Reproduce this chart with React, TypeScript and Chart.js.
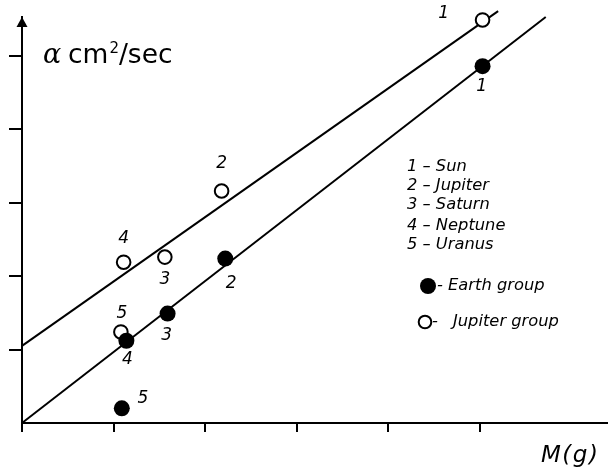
import React, { useEffect, useRef } from 'react';
import { Chart, registerables } from 'chart.js';

Chart.register(...registerables);

// ---- data ----
const planetNames = ['Sun', 'Jupiter', 'Saturn', 'Neptune', 'Uranus'];
const pointNumbers = ['1', '2', '3', '4', '5'];
const earthX = [5.03, 2.22, 1.59, 1.14, 1.09];
const earthY = [4.86, 2.24, 1.49, 1.12, 0.2];
const jupiterX = [5.03, 2.18, 1.56, 1.11, 1.08];
const jupiterY = [5.49, 3.16, 2.26, 2.19, 1.24];
const earthLineX = [0, 5.72];
const earthLineY = [0, 5.53];
const jupiterLineX = [0, 5.2];
const jupiterLineY = [1.05, 5.61];
const xTicks = [0, 1, 2, 3, 4, 5];
const yTicks = [1, 2, 3, 4, 5];
const xMax = 6.4;
const yMax = 5.53;

// label offsets (pixels, style only)
const earthLabelOffsets = [[-1, 20], [6, 25], [-1, 22], [1, 19], [21, -10]];
const jupiterLabelOffsets = [[-39, -6], [0, -27], [0, 23], [0, -24], [1, -18]];

const annotPlugin = {
  id: 'annot',
  afterDraw(chart: any) {
    const ctx = chart.ctx as CanvasRenderingContext2D;
    const xs = chart.scales.x;
    const ys = chart.scales.y;
    const area = chart.chartArea;
    ctx.save();
    ctx.fillStyle = '#000';
    // arrow on y axis
    const ax = area.left;
    const top = area.top;
    ctx.beginPath();
    ctx.moveTo(ax, top);
    ctx.lineTo(ax - 5.5, top + 10);
    ctx.lineTo(ax + 5.5, top + 10);
    ctx.closePath();
    ctx.fill();

    // point number labels
    ctx.font = 'italic 17px "DejaVu Sans"';
    ctx.textAlign = 'center';
    ctx.textBaseline = 'middle';
    pointNumbers.forEach((n, i) => {
      const ex = xs.getPixelForValue(earthX[i]) + earthLabelOffsets[i][0];
      const ey = ys.getPixelForValue(earthY[i]) + earthLabelOffsets[i][1];
      ctx.fillText(n, ex, ey);
      const jx = xs.getPixelForValue(jupiterX[i]) + jupiterLabelOffsets[i][0];
      const jy = ys.getPixelForValue(jupiterY[i]) + jupiterLabelOffsets[i][1];
      ctx.fillText(n, jx, jy);
    });

    // planet legend
    ctx.textAlign = 'left';
    ctx.font = 'italic 16.3px "DejaVu Sans"';
    const legendY = [167, 186, 205, 226, 245];
    planetNames.forEach((p, i) => {
      ctx.fillText(`${pointNumbers[i]} \u2013 ${p}`, 407, legendY[i]);
    });

    // group legend
    ctx.beginPath();
    ctx.arc(428, 286, 8, 0, Math.PI * 2);
    ctx.fill();
    ctx.fillText('- Earth group', 437, 286);
    ctx.beginPath();
    ctx.arc(425, 322, 6.3, 0, Math.PI * 2);
    ctx.fillStyle = '#fff';
    ctx.fill();
    ctx.lineWidth = 2;
    ctx.strokeStyle = '#000';
    ctx.stroke();
    ctx.fillStyle = '#000';
    ctx.fillText('-', 432, 322);
    ctx.fillText('Jupiter group', 453, 322);

    // axis title M(g)
    ctx.font = 'italic 23px "DejaVu Sans"';
    (ctx as any).letterSpacing = '1.5px';
    ctx.textBaseline = 'alphabetic';
    ctx.fillText('M(g)', 541, 462);
    (ctx as any).letterSpacing = '0px';

    // y title
    let x = 43;
    ctx.font = 'italic 27px "DejaVu Serif"';
    ctx.fillText('\u03b1', x, 63);
    x = 68;
    ctx.font = '26.5px "DejaVu Sans"';
    ctx.fillText('cm', x, 63);
    x += ctx.measureText('cm').width + 1;
    ctx.font = '15px "DejaVu Sans"';
    ctx.fillText('2', x, 53);
    x += ctx.measureText('2').width;
    ctx.font = '26.5px "DejaVu Sans"';
    ctx.fillText('/sec', x, 63);
    ctx.restore();
  },
};

export default function App() {
  const ref = useRef<HTMLCanvasElement | null>(null);
  useEffect(() => {
    if (!ref.current) return;
    const chart = new Chart(ref.current, {
      type: 'scatter',
      data: {
        datasets: [
          {
            label: 'Earth group',
            data: earthX.map((x, i) => ({ x, y: earthY[i] })),
            backgroundColor: '#000',
            borderColor: '#000',
            borderWidth: 0,
            pointRadius: 8,
            clip: false as any,
          },
          {
            label: 'Jupiter group',
            data: jupiterX.map((x, i) => ({ x, y: jupiterY[i] })),
            backgroundColor: '#fff',
            borderColor: '#000',
            borderWidth: 2,
            pointRadius: 6.8,
            clip: false as any,
          },
          {
            label: 'Earth fit',
            data: earthLineX.map((x, i) => ({ x, y: earthLineY[i] })),
            showLine: true,
            borderColor: '#000',
            borderWidth: 2,
            pointRadius: 0,
            clip: false as any,
          },
          {
            label: 'Jupiter fit',
            data: jupiterLineX.map((x, i) => ({ x, y: jupiterLineY[i] })),
            showLine: true,
            borderColor: '#000',
            borderWidth: 2,
            pointRadius: 0,
            clip: false as any,
          },
        ],
      },
      options: {
        animation: false,
        responsive: false,
        devicePixelRatio: 1,
        layout: { autoPadding: false, padding: { top: 17, left: 0, right: 0, bottom: 0 } },
        plugins: { legend: { display: false }, tooltip: { enabled: false } },
        events: [],
        scales: {
          x: {
            type: 'linear',
            min: 0,
            max: xMax,
            afterFit: (s: any) => {
              s.height = 50;
            },
            afterBuildTicks: (s: any) => {
              s.ticks = xTicks.map((v) => ({ value: v }));
            },
            ticks: { display: false },
            grid: { drawOnChartArea: false, drawTicks: true, tickLength: 9, color: '#000', lineWidth: 2 },
            border: { display: true, color: '#000', width: 2 },
          },
          y: {
            type: 'linear',
            min: 0,
            max: yMax,
            afterFit: (s: any) => {
              s.width = 22;
            },
            afterBuildTicks: (s: any) => {
              s.ticks = yTicks.map((v) => ({ value: v }));
            },
            ticks: { display: false },
            grid: { drawOnChartArea: false, drawTicks: true, tickLength: 13, color: '#000', lineWidth: 2 },
            border: { display: true, color: '#000', width: 2 },
          },
        },
      },
      plugins: [annotPlugin],
    });
    return () => chart.destroy();
  }, []);
  return (
    <div style={{ position: 'absolute', left: 0, top: 0, width: 608, height: 473, background: '#fff' }}>
      <canvas ref={ref} width={608} height={473} style={{ display: 'block' }} />
    </div>
  );
}
